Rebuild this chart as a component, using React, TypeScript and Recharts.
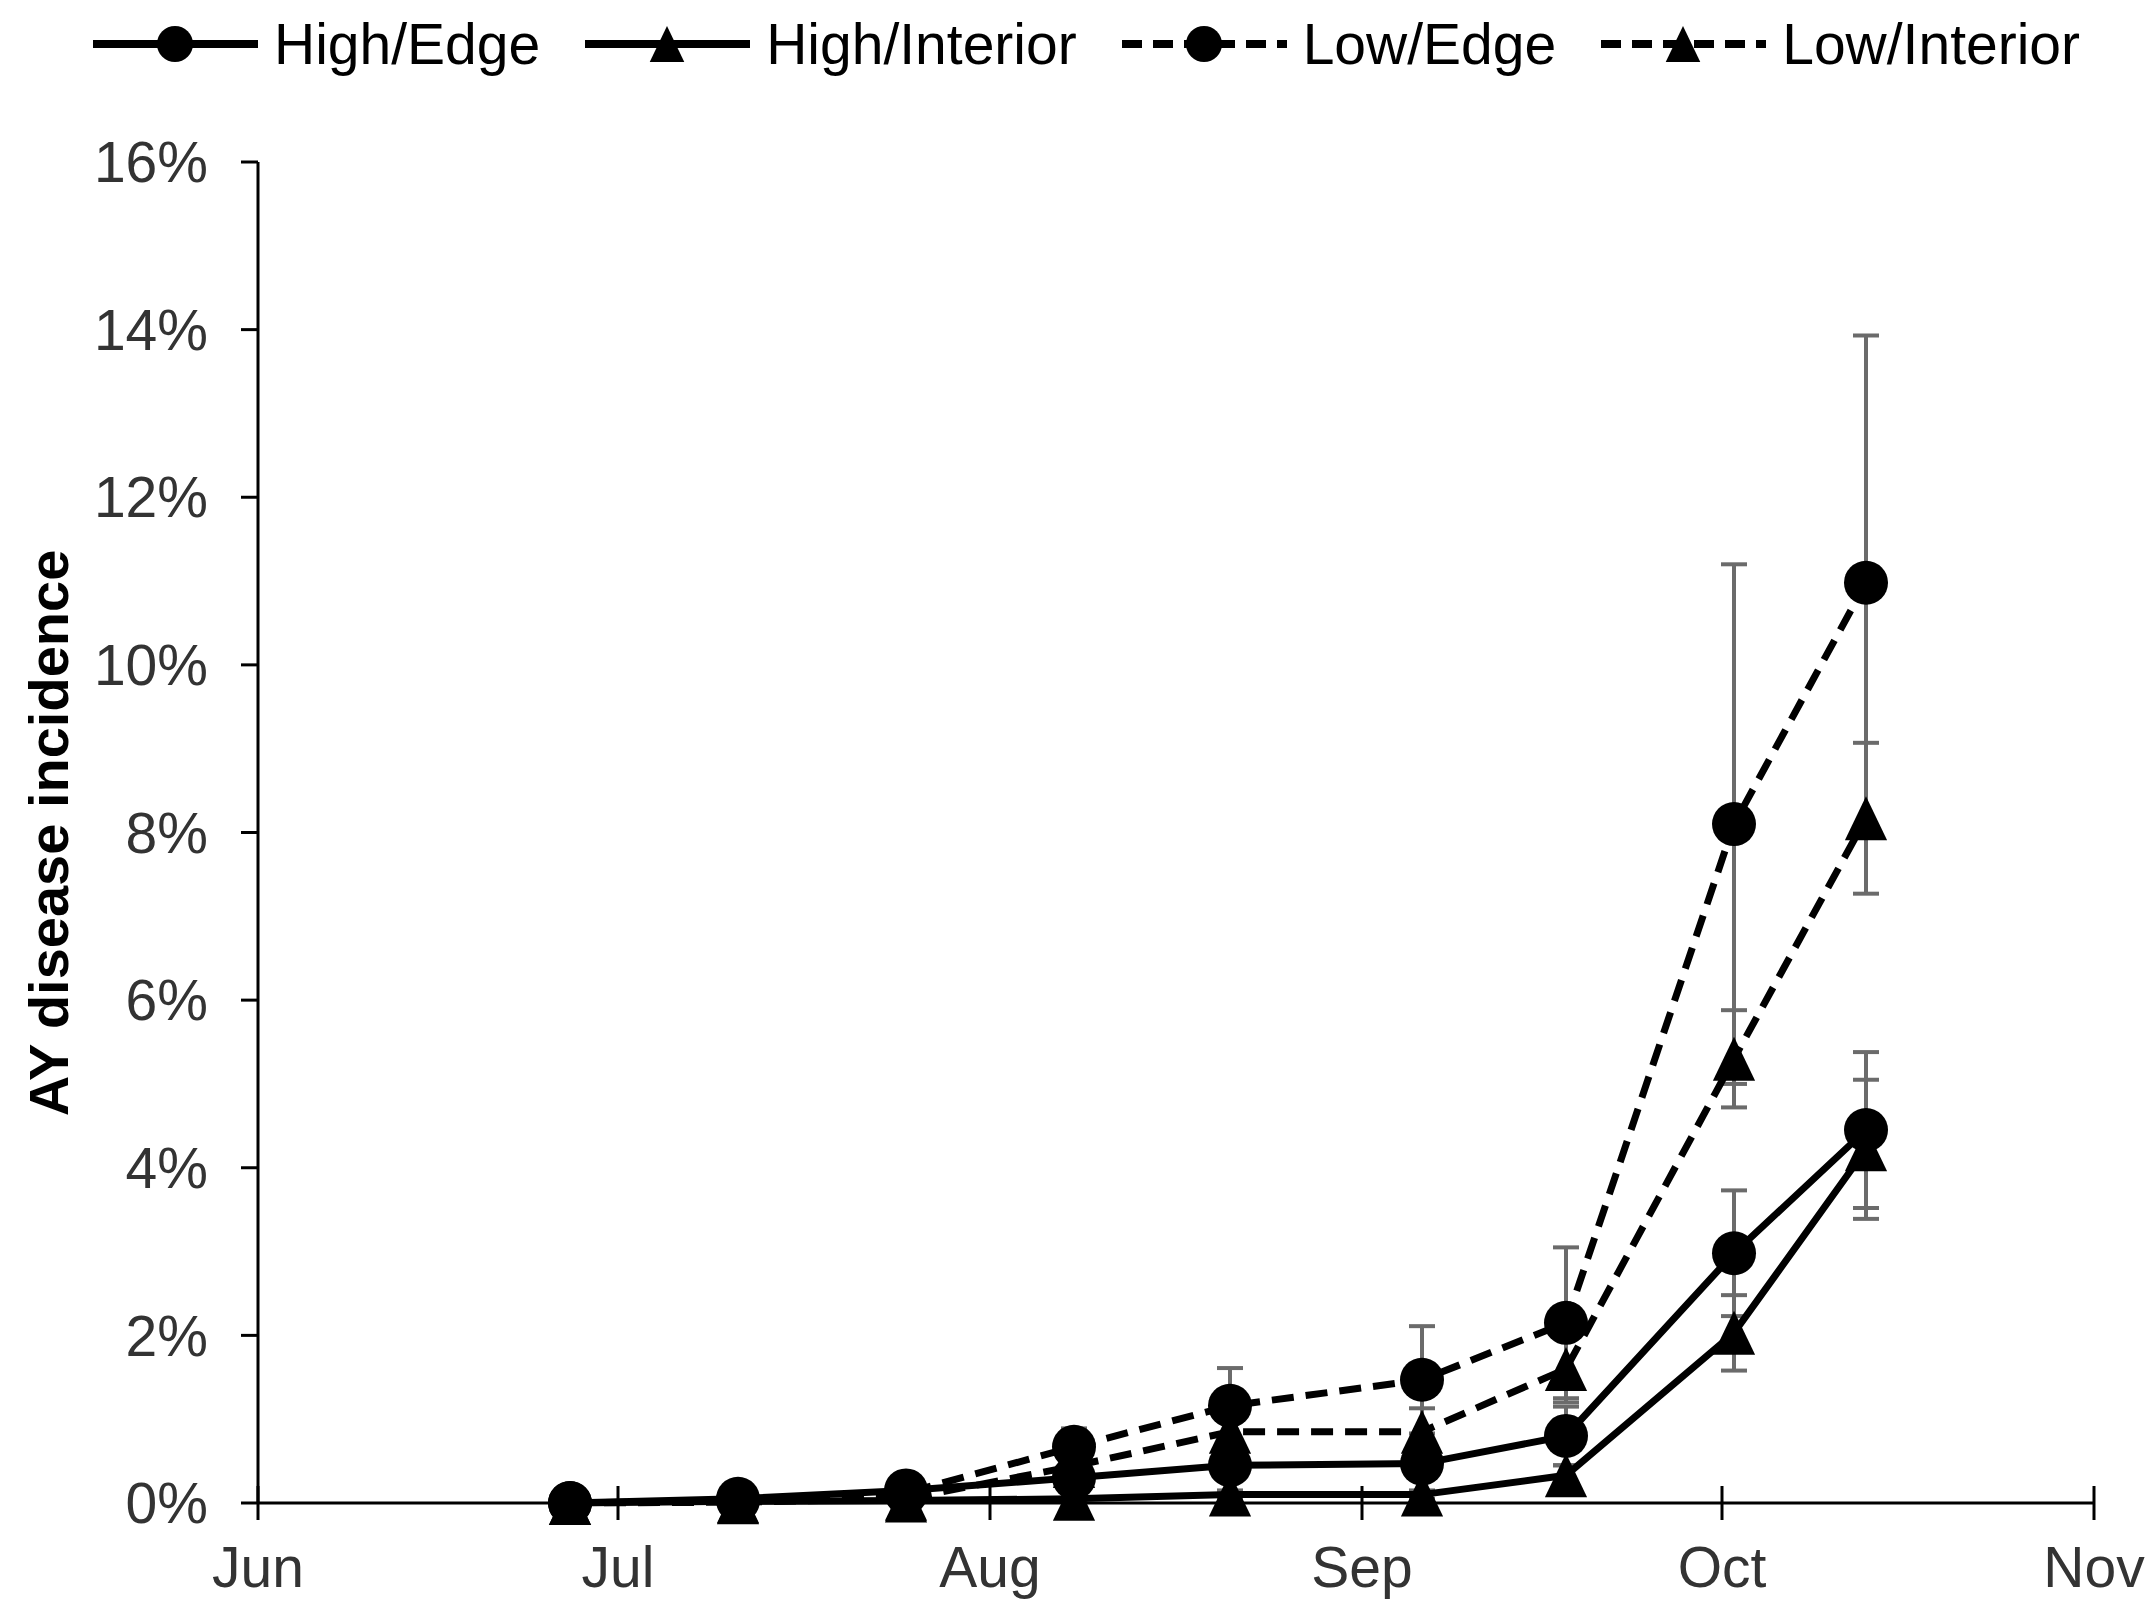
import React from 'react';
import { LineChart, Line, XAxis, YAxis, ErrorBar } from 'recharts';

// sampling dates (mm-dd), season starts Jun 1
const sampleDates = ['06-27', '07-11', '07-25', '08-08', '08-21', '09-06', '09-18', '10-02', '10-13'];
const monthTickDates = ['06-01', '07-01', '08-01', '09-01', '10-01', '11-01'];
const monthLabels = ['Jun', 'Jul', 'Aug', 'Sep', 'Oct', 'Nov'];
const yTicks = [0, 2, 4, 6, 8, 10, 12, 14, 16];

// disease incidence (%) and standard error
const highEdge = [0, 0.05, 0.15, 0.3, 0.45, 0.47, 0.8, 2.98, 4.45];
const highEdgeErr = [0, 0.02, 0.04, 0.08, 0.1, 0.12, 0.35, 0.75, 0.93];
const highInterior = [0, 0.02, 0.03, 0.05, 0.1, 0.1, 0.33, 2.03, 4.22];
const highInteriorErr = [0, 0, 0.02, 0.03, 0.05, 0.05, 0.12, 0.45, 0.83];
const lowEdge = [0, 0.03, 0.12, 0.67, 1.16, 1.47, 2.15, 8.1, 10.98];
const lowEdgeErr = [0, 0.02, 0.06, 0.22, 0.45, 0.64, 0.9, 3.1, 2.95];
const lowInterior = [0, 0.01, 0.05, 0.44, 0.85, 0.85, 1.6, 5.3, 8.17];
const lowInteriorErr = [0, 0.01, 0.03, 0.15, 0.25, 0.28, 0.4, 0.58, 0.9];

const FONT = '"Liberation Sans", Arial, sans-serif';
const DASH = '22 12';

const toDay = (md: string) => {
  const [m, d] = md.split('-').map(Number);
  return (Date.UTC(2000, m - 1, d) - Date.UTC(2000, 5, 1)) / 86400000;
};

const monthTicks = monthTickDates.map(toDay);

const data = sampleDates.map((d, i) => ({
  day: toDay(d),
  he: highEdge[i],
  heErr: highEdgeErr[i],
  hi: highInterior[i],
  hiErr: highInteriorErr[i],
  le: lowEdge[i],
  leErr: lowEdgeErr[i],
  li: lowInterior[i],
  liErr: lowInteriorErr[i],
}));

const series = [
  { key: 'he', err: 'heErr', label: 'High/Edge', shape: 'circle', dashed: false },
  { key: 'hi', err: 'hiErr', label: 'High/Interior', shape: 'triangle', dashed: false },
  { key: 'le', err: 'leErr', label: 'Low/Edge', shape: 'circle', dashed: true },
  { key: 'li', err: 'liErr', label: 'Low/Interior', shape: 'triangle', dashed: true },
];

function Marker({ cx, cy, shape, size = 22 }: { cx: number; cy: number; shape: string; size?: number }) {
  if (shape === 'circle') return <circle cx={cx} cy={cy} r={size} fill="#000" />;
  const w = size * 0.96;
  const h = size;
  return (
    <polygon
      points={`${cx},${cy - h} ${cx - w},${cy + h} ${cx + w},${cy + h}`}
      fill="#000"
    />
  );
}

const makeDot = (shape: string, key: string) => (props: any) => {
  const { cx, cy, index } = props;
  if (cx == null || cy == null) return <g key={`${key}-${index}`} />;
  return (
    <g key={`${key}-${index}`}>
      <Marker cx={cx} cy={cy} shape={shape} />
    </g>
  );
};

function MonthTick({ x, y, payload }: any) {
  const label = monthLabels[monthTicks.indexOf(payload.value)];
  return (
    <g>
      <line x1={x} x2={x} y1={y - 17} y2={y + 17} stroke="#000" strokeWidth={3} />
      <text x={x} y={y + 84} textAnchor="middle" fontSize={57} fontFamily={FONT} fill="#333">
        {label}
      </text>
    </g>
  );
}

function LegendRow() {
  return (
    <div
      style={{
        position: 'absolute',
        left: 93,
        top: 10,
        height: 68,
        display: 'flex',
        alignItems: 'center',
        gap: 45,
        fontFamily: FONT,
        fontSize: 57,
        color: '#000',
        whiteSpace: 'nowrap',
      }}
    >
      {series.map((s) => (
        <div key={s.key} style={{ display: 'flex', alignItems: 'center', gap: 16 }}>
          <svg width={165} height={60} style={{ display: 'block' }}>
            <line
              x1={0}
              x2={165}
              y1={30}
              y2={30}
              stroke="#000"
              strokeWidth={8}
              strokeDasharray={s.dashed ? '20 11' : undefined}
            />
            <Marker cx={82} cy={30} shape={s.shape} size={18} />
          </svg>
          <span style={{ lineHeight: '60px' }}>{s.label}</span>
        </div>
      ))}
    </div>
  );
}

export default function App() {
  return (
    <div
      style={{
        position: 'absolute',
        left: 0,
        top: 0,
        width: 2150,
        height: 1602,
        background: '#fff',
        fontFamily: FONT,
      }}
    >
      <LineChart
        width={2150}
        height={1602}
        data={data}
        margin={{ top: 162, right: 56, bottom: 0, left: 0 }}
      >
        <XAxis
          dataKey="day"
          type="number"
          domain={[monthTicks[0], monthTicks[monthTicks.length - 1]]}
          ticks={monthTicks}
          interval={0}
          height={99}
          tickSize={0}
          tickMargin={0}
          tickLine={false}
          axisLine={{ stroke: '#000', strokeWidth: 3 }}
          tick={<MonthTick />}
        />
        <YAxis
          type="number"
          domain={[0, 16]}
          ticks={yTicks}
          interval={0}
          width={258}
          tickSize={17}
          tickMargin={33}
          tickFormatter={(v: number) => `${v}%`}
          tick={{ fill: '#333', fontSize: 57, fontFamily: FONT }}
          tickLine={{ stroke: '#000', strokeWidth: 3 }}
          axisLine={{ stroke: '#000', strokeWidth: 3 }}
        />
        {series.map((s) => (
          <Line
            key={s.key}
            type="linear"
            dataKey={s.key}
            stroke="#000"
            strokeWidth={7}
            strokeDasharray={s.dashed ? DASH : undefined}
            dot={makeDot(s.shape, s.key)}
            activeDot={false}
            isAnimationActive={false}
          >
            <ErrorBar
              dataKey={s.err}
              direction="y"
              width={13}
              stroke="#6b6b6b"
              strokeWidth={4}
              isAnimationActive={false}
            />
          </Line>
        ))}
      </LineChart>
      <LegendRow />
      <svg
        width={120}
        height={1602}
        style={{ position: 'absolute', left: 0, top: 0, pointerEvents: 'none' }}
      >
        <text
          x={48}
          y={833}
          transform="rotate(-90 48 833)"
          textAnchor="middle"
          dominantBaseline="central"
          fontSize={56}
          fontWeight="bold"
          fontFamily={FONT}
          fill="#000"
        >
          AY disease incidence
        </text>
      </svg>
    </div>
  );
}
